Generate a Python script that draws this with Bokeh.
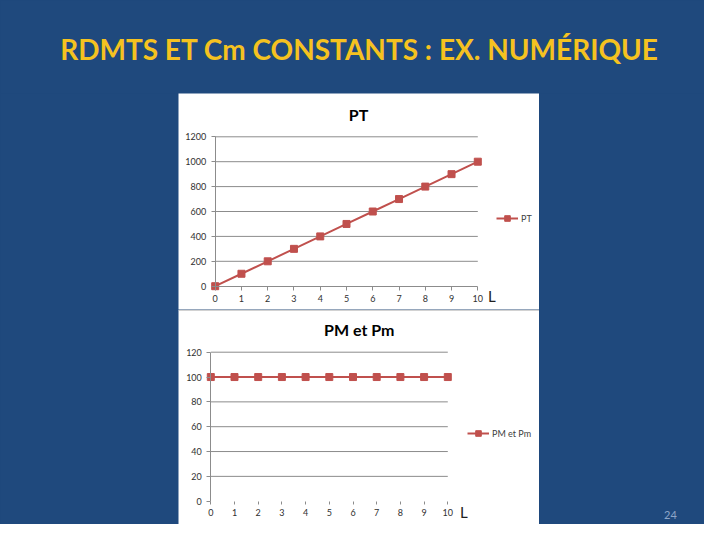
from bokeh.plotting import figure
from bokeh.layouts import column, row
from bokeh.models import Range1d, FixedTicker, Legend, LegendItem, Span
from bokeh.embed import file_html
from bokeh.resources import INLINE
from bokeh.core.properties import value

# ---- data ----
slide_title = "RDMTS ET Cm CONSTANTS : EX. NUMÉRIQUE"
page_number = "24"
chart1_title = "PT"
chart2_title = "PM et Pm"
x_name = "L"
L = [0, 1, 2, 3, 4, 5, 6, 7, 8, 9, 10]
PT = [0, 100, 200, 300, 400, 500, 600, 700, 800, 900, 1000]
PM_Pm = [100, 100, 100, 100, 100, 100, 100, 100, 100, 100, 100]
x_ticks = [0, 1, 2, 3, 4, 5, 6, 7, 8, 9, 10]
pt_ticks = [0, 200, 400, 600, 800, 1000, 1200]
pm_ticks = [0, 20, 40, 60, 80, 100, 120]

BLUE = "#1F497D"
GOLD = "#F5C220"
RED = "#C0504D"
GRAY = "#8C8C8C"
FONT = "Lato"


def panel(w, h):
    f = figure(width=w, height=h, x_range=Range1d(0, w), y_range=Range1d(0, h),
               output_backend="svg", toolbar_location=None, min_border=0,
               x_axis_location=None, y_axis_location=None)
    f.grid.visible = False
    f.background_fill_color = BLUE
    f.border_fill_color = BLUE
    f.outline_line_color = None
    return f


def chart(title, xs, ys, yticks, w, h, ml, mr, mt, mb, show_xline,
          leg_loc, l_off, t_off, top_rule):
    x0, x1 = xs[0], xs[-1]
    y0, y1 = yticks[0], yticks[-1]
    fw, fh = w - ml - mr, h - mt - mb
    kx, ky = (x1 - x0) / fw, (y1 - y0) / fh
    p = figure(width=w, height=h,
               x_range=Range1d(x0 - ml * kx, x1 + mr * kx),
               y_range=Range1d(y0 - mb * ky, y1 + mt * ky),
               output_backend="svg", toolbar_location=None, min_border=0)
    p.background_fill_color = "white"
    p.border_fill_color = "white"
    p.outline_line_color = None
    p.grid.visible = False
    if top_rule:
        p.add_layout(Span(location=y1 + (mt - 0.6) * ky, dimension="width",
                          line_color="#B4B4B4", line_width=1))
    # horizontal gridlines from the tick values
    p.segment(x0=x0, x1=x1, y0=yticks[1:], y1=yticks[1:], line_color=GRAY,
              line_width=1)
    p.xaxis.fixed_location = y0
    p.yaxis.fixed_location = x0
    p.xaxis.bounds = (x0, x1)
    p.yaxis.bounds = (y0, y1)
    p.xaxis.ticker = FixedTicker(ticks=x_ticks)
    p.yaxis.ticker = FixedTicker(ticks=yticks)
    p.axis.axis_line_color = GRAY
    p.axis.major_tick_line_color = GRAY
    p.axis.major_tick_out = 4
    p.axis.major_tick_in = 0
    p.axis.minor_tick_line_color = None
    p.axis.major_label_text_font_size = "9px"
    p.axis.major_label_text_color = "#303030"
    p.axis.major_label_text_font = FONT
    p.axis.major_label_standoff = 5
    if not show_xline:
        p.xaxis.axis_line_color = None
        p.xaxis.major_tick_out = 3
    lr = p.line(xs, ys, line_width=2, color=RED)
    sr = p.scatter(xs, ys, marker="square", size=7, color=RED)
    leg = Legend(items=[LegendItem(label=title, renderers=[lr, sr])],
                 location=leg_loc, border_line_color=None,
                 background_fill_alpha=0, padding=0, margin=0,
                 glyph_width=22, glyph_height=14, label_height=14,
                 label_standoff=3, label_text_font_size="9px",
                 label_text_font=FONT, label_text_color="#404040")
    p.add_layout(leg)
    p.text(x=[x1], y=[y0], text=[x_name], x_offset=l_off[0],
           y_offset=l_off[1], text_font_size="15px", text_align="center",
           text_baseline="middle", text_font=value(FONT), text_color="#202020")
    p.text(x=[(x0 + x1) / 2], y=[y1], text=[title],
           x_offset=t_off[0], y_offset=t_off[1], text_font_size="16px",
           text_font_style="bold", text_align="center", text_baseline="middle",
           text_font=value(FONT), text_color="#000000")
    return p


title_fig = panel(704, 93)
title_fig.text(x=[359], y=[45], text=[slide_title], text_font=value(FONT),
               text_font_style="bold", text_font_size="28px", text_color=GOLD,
               text_align="center", text_baseline="middle")

left_fig = panel(178, 431)
right_fig = panel(165, 431)
right_fig.text(x=[131], y=[10], text=[page_number], text_font=value(FONT),
               text_font_size="11px", text_color="#8DA5C8",
               text_align="center", text_baseline="middle")

c1 = chart(chart1_title, L, PT, pt_ticks, 361, 216, 36.7, 61.7, 43.3, 23.3,
           True, (318, 84), (14, 10), (12, -22), False)
c2 = chart(chart2_title, L, PM_Pm, pm_ticks, 361, 215, 32.3, 91.7, 42.7, 23.3,
           False, (289, 84), (16, 11), (30, -23), True)

bg = {"background-color": BLUE}
layout = column(title_fig,
                row(left_fig, column(c1, c2, styles=bg), right_fig, styles=bg),
                styles=bg)

open("out.html", "w").write(file_html(layout, INLINE))
